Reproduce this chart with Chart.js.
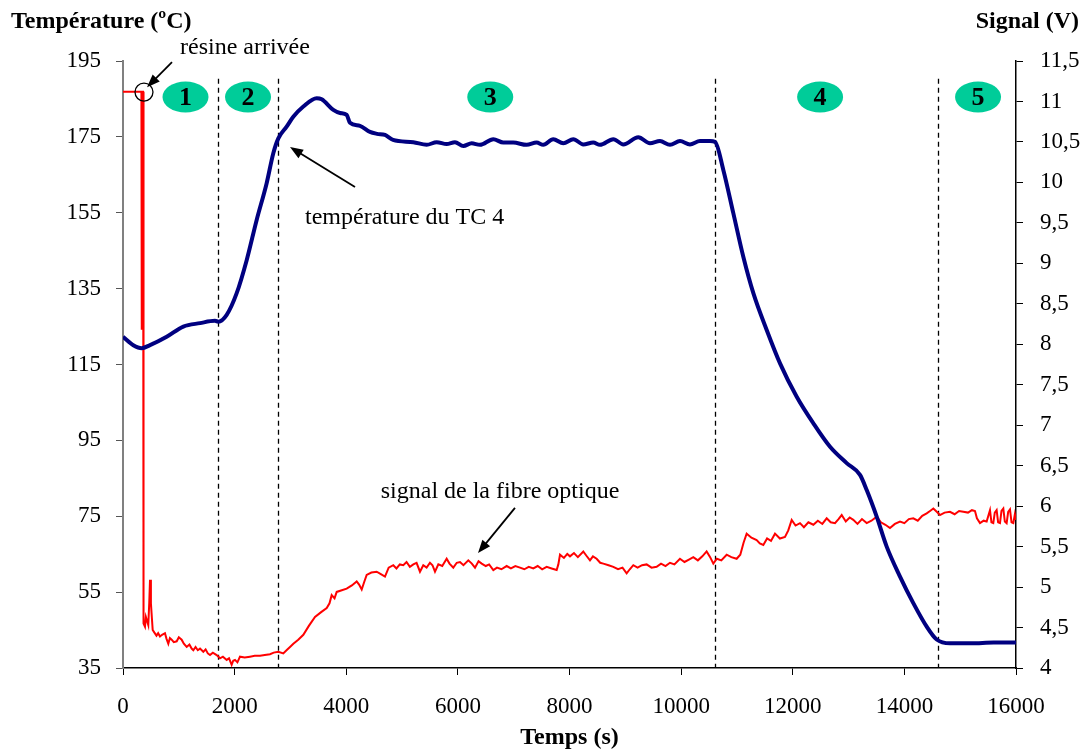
<!DOCTYPE html>
<html lang="fr">
<head>
<meta charset="UTF-8">
<title>Température et signal de la fibre optique</title>
<script src="https://cdn.jsdelivr.net/npm/chart.js"></script>
<style>
  html, body { margin: 0; padding: 0; background: #fff; }
</style>
</head>
<body>
<canvas id="myChart" width="1091" height="752"></canvas>

<script>
// température du TC 4 (ºC) en fonction du temps (s)
const tempsTC = [0, 185, 335, 484, 783, 1081, 1380, 1648, 1708, 1858, 2037, 2216, 2395, 2574, 2693, 2783,
  2932, 3051, 3231, 3470, 3560, 3768, 3889, 4008, 4067, 4246, 4425, 4551, 4694, 4838, 5202, 5441, 5620,
  5799, 5948, 6098, 6247, 6396, 6635, 6814, 6993, 7232, 7411, 7530, 7709, 7889, 8068, 8247, 8426, 8546,
  8785, 8964, 9233, 9442, 9621, 9800, 9979, 10158, 10338, 10517, 10607, 10756, 10935, 11114, 11294,
  11533, 11772, 12071, 12369, 12668, 12966, 13205, 13325, 13504, 13683, 13922, 14160, 14400, 14579,
  14817, 15200, 15600, 16000];
const temperatureTC = [122.3, 120.1, 119.3, 120.1, 122.3, 125.0, 125.9, 126.5, 126.3, 128.1, 133.8, 142.5,
  153.1, 162.8, 170.7, 174.6, 177.7, 180.3, 183.0, 185.2, 184.9, 182.1, 181.3, 180.8, 178.7, 177.9, 176.3,
  175.8, 175.5, 174.2, 173.6, 172.9, 173.6, 173.1, 173.6, 172.6, 173.3, 172.9, 174.4, 173.5, 173.5, 172.9,
  173.5, 172.9, 174.4, 173.3, 174.4, 173.0, 173.5, 172.9, 174.4, 173.0, 174.9, 173.3, 173.9, 172.9, 173.9,
  173.0, 173.9, 173.9, 173.7, 166.3, 154.9, 143.4, 133.8, 124.1, 115.3, 106.5, 99.5, 93.3, 89.0, 85.9,
  81.9, 74.9, 67.0, 59.1, 52.1, 45.9, 42.5, 41.5, 41.5, 41.7, 41.7];

// signal de la fibre optique (V)
const tempsFibre = [0, 330, 336, 345, 360, 368, 394, 410, 453, 470, 484, 500, 532, 560, 600, 630, 663, 700,
  752, 780, 812, 840, 872, 910, 962, 1000, 1051, 1090, 1141, 1190, 1230, 1260, 1300, 1340, 1380, 1439,
  1480, 1520, 1559, 1610, 1678, 1738, 1790, 1858, 1900, 1947, 1975, 2007, 2050, 2096, 2180, 2275, 2360,
  2455, 2540, 2634, 2700, 2783, 2872, 2930, 2992, 3052, 3140, 3231, 3330, 3440, 3550, 3650, 3700, 3739,
  3790, 3829, 3920, 4008, 4100, 4187, 4230, 4277, 4320, 4366, 4450, 4545, 4620, 4694, 4760, 4843, 4900,
  4960, 5022, 5080, 5140, 5202, 5260, 5321, 5380, 5440, 5500, 5545, 5590, 5650, 5720, 5799, 5850, 5918,
  5980, 6038, 6100, 6187, 6250, 6307, 6370, 6427, 6500, 6560, 6635, 6700, 6780, 6874, 6950, 7030, 7113,
  7190, 7270, 7352, 7430, 7510, 7591, 7680, 7770, 7800, 7830, 7900, 7960, 8009, 8080, 8150, 8247, 8300,
  8367, 8420, 8486, 8550, 8606, 8700, 8785, 8870, 8950, 9024, 9080, 9143, 9220, 9300, 9382, 9470, 9561,
  9640, 9720, 9800, 9880, 9979, 10060, 10140, 10218, 10300, 10380, 10457, 10520, 10577, 10640, 10720,
  10816, 10900, 10995, 11060, 11120, 11174, 11260, 11353, 11410, 11473, 11540, 11610, 11682, 11770,
  11861, 11920, 11981, 12050, 12130, 12200, 12280, 12369, 12450, 12530, 12608, 12680, 12757, 12820,
  12877, 12950, 13020, 13085, 13160, 13240, 13325, 13410, 13504, 13580, 13660, 13742, 13830, 13922,
  14000, 14080, 14160, 14240, 14320, 14400, 14460, 14519, 14580, 14638, 14720, 14817, 14900, 14980,
  15056, 15140, 15210, 15265, 15300, 15355, 15420, 15474, 15534, 15560, 15593, 15620, 15653, 15680,
  15713, 15740, 15773, 15800, 15832, 15860, 15892, 15920, 15952, 15980, 16000];
const signalFibre = [11.12, 11.12, 8.18, 11.12, 11.12, 4.55, 4.51, 4.63, 4.53, 4.80, 5.09, 4.80, 4.47, 4.44,
  4.40, 4.43, 4.39, 4.41, 4.43, 4.36, 4.30, 4.37, 4.35, 4.32, 4.33, 4.38, 4.35, 4.30, 4.26, 4.29, 4.24,
  4.22, 4.26, 4.22, 4.24, 4.20, 4.23, 4.18, 4.16, 4.19, 4.16, 4.12, 4.14, 4.10, 4.12, 4.04, 4.09, 4.10,
  4.07, 4.14, 4.13, 4.14, 4.15, 4.15, 4.16, 4.17, 4.19, 4.20, 4.18, 4.22, 4.26, 4.30, 4.35, 4.41, 4.52,
  4.63, 4.69, 4.74, 4.80, 4.90, 4.86, 4.94, 4.96, 4.98, 5.02, 5.07, 5.03, 4.97, 5.06, 5.15, 5.18, 5.19,
  5.16, 5.13, 5.24, 5.27, 5.23, 5.28, 5.27, 5.31, 5.25, 5.28, 5.30, 5.19, 5.27, 5.24, 5.30, 5.27, 5.19,
  5.28, 5.26, 5.35, 5.29, 5.24, 5.30, 5.31, 5.27, 5.33, 5.29, 5.24, 5.32, 5.29, 5.26, 5.28, 5.21, 5.24,
  5.22, 5.26, 5.23, 5.26, 5.24, 5.22, 5.25, 5.23, 5.26, 5.22, 5.25, 5.23, 5.21, 5.28, 5.40, 5.36, 5.41,
  5.38, 5.42, 5.37, 5.44, 5.39, 5.33, 5.38, 5.35, 5.30, 5.29, 5.27, 5.25, 5.22, 5.24, 5.17, 5.22, 5.27,
  5.24, 5.27, 5.28, 5.24, 5.25, 5.29, 5.26, 5.30, 5.28, 5.35, 5.31, 5.34, 5.37, 5.33, 5.38, 5.44, 5.37,
  5.29, 5.35, 5.33, 5.40, 5.37, 5.35, 5.40, 5.55, 5.66, 5.61, 5.58, 5.54, 5.52, 5.60, 5.57, 5.66, 5.60,
  5.62, 5.70, 5.83, 5.76, 5.79, 5.74, 5.80, 5.77, 5.82, 5.78, 5.85, 5.80, 5.79, 5.84, 5.89, 5.81, 5.86,
  5.83, 5.78, 5.84, 5.79, 5.82, 5.87, 5.80, 5.77, 5.73, 5.78, 5.81, 5.79, 5.84, 5.85, 5.82, 5.88, 5.91,
  5.94, 5.97, 5.93, 5.89, 5.92, 5.93, 5.90, 5.94, 5.93, 5.92, 5.95, 5.94, 5.85, 5.79, 5.82, 5.81, 5.95,
  5.80, 5.79, 5.92, 5.95, 5.80, 5.79, 5.94, 5.97, 5.81, 5.79, 5.93, 5.96, 5.80, 5.79, 5.90, 5.83];

// phases
const phaseLimites = [1700, 2780, 10600, 14600];
const phaseNumeros = ['1', '2', '3', '4', '5'];
const phaseCentres = [1120, 2240, 6580, 12490, 15320];

// axes
const tempMin = 35, tempMax = 195, tempPas = 20;
const signalMin = 4, signalMax = 11.5, signalPas = 0.5;
const tempsMax = 16000, tempsPas = 2000;

const police = "'Liberation Serif', 'Times New Roman', serif";

function fleche(ctx, x1, y1, x2, y2) {
    const a = Math.atan2(y2 - y1, x2 - x1);
    ctx.beginPath();
    ctx.moveTo(x1, y1);
    ctx.lineTo(x2 - 8 * Math.cos(a), y2 - 8 * Math.sin(a));
    ctx.stroke();
    ctx.beginPath();
    ctx.moveTo(x2, y2);
    ctx.lineTo(x2 - 13 * Math.cos(a) + 5 * Math.sin(a), y2 - 13 * Math.sin(a) - 5 * Math.cos(a));
    ctx.lineTo(x2 - 13 * Math.cos(a) - 5 * Math.sin(a), y2 - 13 * Math.sin(a) + 5 * Math.cos(a));
    ctx.closePath();
    ctx.fill();
}

const annotations = {
    id: 'annotations',
    beforeDatasetsDraw(chart) {
        const { ctx, chartArea, scales: { x, y } } = chart;
        ctx.save();
        ctx.setLineDash([5, 4]);
        ctx.strokeStyle = '#000';
        ctx.lineWidth = 1.3;
        phaseLimites.forEach(t => {
            const px = Math.round(x.getPixelForValue(t)) + 0.5;
            ctx.beginPath();
            ctx.moveTo(px, y.getPixelForValue(190.3));
            ctx.lineTo(px, chartArea.bottom);
            ctx.stroke();
        });
        ctx.restore();
    },
    afterDraw(chart) {
        const { ctx, scales: { x, y } } = chart;
        ctx.save();

        // numéros de phase
        phaseCentres.forEach((t, i) => {
            const cx = x.getPixelForValue(t), cy = y.getPixelForValue(185.5);
            ctx.fillStyle = '#00CC99';
            ctx.beginPath();
            ctx.ellipse(cx, cy, 23, 15.5, 0, 0, Math.PI * 2);
            ctx.fill();
            ctx.fillStyle = '#000';
            ctx.font = 'bold 26px ' + police;
            ctx.textAlign = 'center';
            ctx.textBaseline = 'middle';
            ctx.fillText(phaseNumeros[i], cx, cy + 1);
        });

        // textes et flèches
        ctx.fillStyle = '#000';
        ctx.strokeStyle = '#000';
        ctx.lineWidth = 1.8;
        ctx.font = '24px ' + police;
        ctx.textBaseline = 'middle';
        ctx.textAlign = 'left';
        ctx.fillText('résine arrivée', x.getPixelForValue(1021), y.getPixelForValue(198.4));
        ctx.fillText('température du TC 4', x.getPixelForValue(3261), y.getPixelForValue(153.6));
        ctx.textAlign = 'center';
        ctx.fillText('signal de la fibre optique', x.getPixelForValue(6755), y.getPixelForValue(81.4));

        fleche(ctx, x.getPixelForValue(878), y.getPixelForValue(194.7), x.getPixelForValue(430), y.getPixelForValue(188.1));
        fleche(ctx, x.getPixelForValue(4157), y.getPixelForValue(161.8), x.getPixelForValue(2992), y.getPixelForValue(172.3));
        fleche(ctx, x.getPixelForValue(7023), y.getPixelForValue(77.2), x.getPixelForValue(6361), y.getPixelForValue(65.3));

        ctx.lineWidth = 1.3;
        ctx.beginPath();
        ctx.arc(x.getPixelForValue(376), y.getPixelForValue(186.8), 9, 0, Math.PI * 2);
        ctx.stroke();

        // titres des axes verticaux
        ctx.font = 'bold 24px ' + police;
        ctx.textAlign = 'left';
        ctx.fillText('Température (ºC)', 11, 22);
        ctx.textAlign = 'right';
        ctx.fillText('Signal (V)', 1079, 22);
        ctx.restore();
    }
};

const config = {
    type: 'line',
    data: {
        datasets: [{
            label: 'température du TC 4',
            data: tempsTC.map((t, i) => ({ x: t, y: temperatureTC[i] })),
            yAxisID: 'y',
            borderColor: '#000080',
            borderWidth: 4,
            pointRadius: 0,
            cubicInterpolationMode: 'monotone'
        }, {
            label: 'signal de la fibre optique',
            data: tempsFibre.map((t, i) => ({ x: t, y: signalFibre[i] })),
            yAxisID: 'y1',
            borderColor: '#FF0000',
            borderWidth: 2,
            pointRadius: 0,
            tension: 0
        }]
    },
    options: {
        responsive: false,
        animation: false,
        devicePixelRatio: 1,
        layout: { padding: { top: 61, left: 0, right: 0, bottom: 0 } },
        plugins: { legend: { display: false }, tooltip: { enabled: false } },
        scales: {
            x: {
                type: 'linear',
                min: 0,
                max: tempsMax,
                afterFit(s) { s.height = 84; },
                ticks: {
                    stepSize: tempsPas,
                    color: '#000',
                    padding: 18,
                    maxRotation: 0,
                    font: { family: police, size: 23 },
                    callback: v => String(v)
                },
                grid: { drawOnChartArea: false, tickLength: 7, color: '#000' },
                border: { color: '#000', width: 1.5 },
                title: {
                    display: true,
                    text: 'Temps (s)',
                    color: '#000',
                    padding: { top: 0, bottom: 0 },
                    font: { family: police, size: 24, weight: 'bold' }
                }
            },
            y: {
                position: 'left',
                min: tempMin,
                max: tempMax,
                afterFit(s) { s.width = 123; },
                ticks: {
                    stepSize: tempPas,
                    color: '#000',
                    padding: 15,
                    font: { family: police, size: 23 }
                },
                grid: { drawOnChartArea: false, tickLength: 7, color: '#555' },
                border: { color: '#808080', width: 2 }
            },
            y1: {
                position: 'right',
                min: signalMin,
                max: signalMax,
                afterFit(s) { s.width = 75; },
                ticks: {
                    stepSize: signalPas,
                    color: '#000',
                    padding: 17,
                    font: { family: police, size: 23 },
                    callback: v => v.toString().replace('.', ',')
                },
                grid: { drawOnChartArea: false, tickLength: 7, color: '#000' },
                border: { color: '#000', width: 1.5 }
            }
        }
    },
    plugins: [annotations]
};

new Chart(document.getElementById('myChart'), config);
</script>
</body>
</html>
